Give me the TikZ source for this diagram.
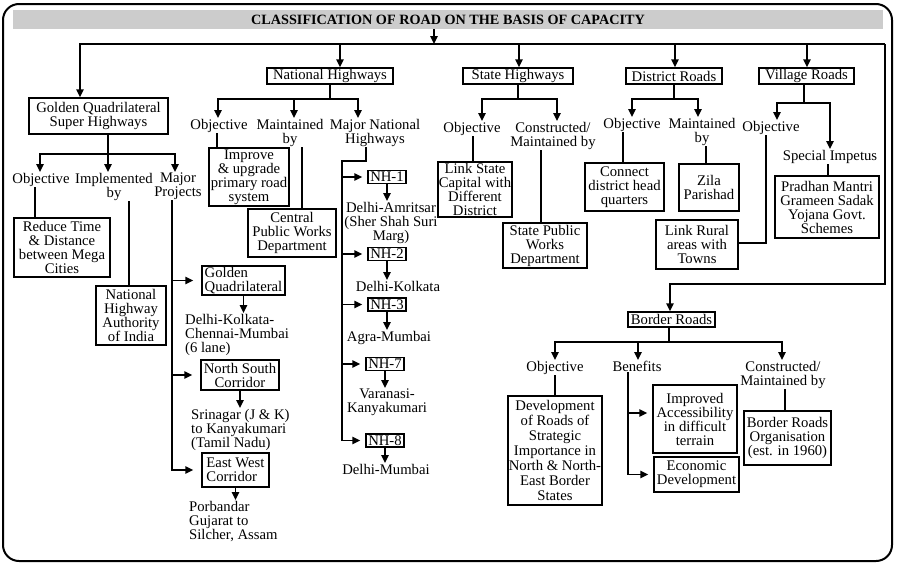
\documentclass[tikz,border=0pt]{standalone}
\usepackage{fontspec}
\setmainfont{Liberation Serif}
\usetikzlibrary{arrows.meta}
\newcommand\fs{\fontsize{14.7}{14}\selectfont}
\begin{document}
\begin{tikzpicture}[x=1pt,y=-1pt,
  every node/.style={font=\fs, inner sep=1pt},
  box/.style={draw, line width=1.5pt, align=center, inner sep=1pt, fill=white},
  sz/.style 2 args={minimum width=#1, minimum height=#2},
  lbl/.style={align=center, inner sep=1pt, anchor=north},
  conn/.style={line width=1.6pt, line cap=rect},
  arr/.style={line width=1.6pt, -{Triangle[length=8pt,width=7.5pt]}},
]
\useasboundingbox (0,0) rectangle (900,568);
\draw[line width=2pt, rounded corners=16pt] (3,4) rectangle (892,561);
\fill[gray!40] (13,10) rectangle (883,29);
\node[font=\fontsize{14.2}{14}\selectfont\bfseries] (title) at (448,19.5) {CLASSIFICATION OF ROAD ON THE BASIS OF CAPACITY};

% level 1
\node[box, sz={139}{36}] (gq) at (98.5,116) {Golden Quadrilateral\\Super Highways};
\node[box, sz={126}{16}] (nh) at (330,76) {National Highways};
\node[box, sz={110}{16}] (sh) at (518,76) {State Highways};
\node[box, sz={96}{16}] (dr) at (674,76) {District Roads};
\node[box, sz={95}{16}] (vr) at (806.5,76) {Village Roads};
\node[box, sz={87}{15}] (br) at (671.5,319.5) {Border Roads};

\coordinate (barbot) at (434,29);
\coordinate (tj) at (434,44);
\coordinate (busL) at (80,44);
\coordinate (busR) at (885,44);
\coordinate (bnh) at (340,44);
\coordinate (bsh) at (519,44);
\coordinate (bdr) at (675,44);
\coordinate (bvr) at (807,44);
\coordinate (bbr) at (885,284);
\coordinate (bbr2) at (670,284);
\draw[arr] (barbot) -- (tj);
\draw[arr] (busR) -- (busL) -- (busL |- gq.north);
\draw[arr] (busR) -- (bbr) -- (bbr2) -- (bbr2 |- br.north);
\draw[arr] (bnh) -- (bnh |- nh.north);
\draw[arr] (bsh) -- (bsh |- sh.north);
\draw[arr] (bdr) -- (bdr |- dr.north);
\draw[arr] (bvr) -- (bvr |- vr.north);

% ---------- National Highways ----------
\node[lbl] (nhobj) at (219,118) {Objective};
\node[lbl] (nhmnt) at (290,118) {Maintained\\by};
\node[lbl] (nhmaj) at (375,118) {Major National\\Highways};
\coordinate (nhj) at (330,99);
\coordinate (nhL) at (218,99);
\coordinate (nhM) at (294,99);
\coordinate (nhR) at (358,99);
\draw[conn] (nh.south) -- (nhj);
\draw[arr] (nhj) -- (nhL) -- (nhL |- nhobj.north);
\draw[arr] (nhj) -- (nhR) -- (nhR |- nhmaj.north);
\draw[arr] (nhM) -- (nhM |- nhmnt.north);

\node[box, sz={80}{58}] (impr) at (249,177) {Improve\\\& upgrade\\primary road\\system};
\node[box, sz={88}{48}] (cpwd) at (292,233) {Central\\Public Works\\Department};
\draw[conn] (217,0 |- nhobj.south) -- (217,0 |- impr.north);
\draw[conn] (302,0 |- nhmnt.south) -- (302,0 |- cpwd.north);

\node[box, sz={38}{13}] (nh1) at (387,177) {NH-1};
\node[box, sz={38}{13}] (nh2) at (387,254) {NH-2};
\node[box, sz={38}{13}] (nh3) at (387,304.5) {NH-3};
\node[box, sz={38}{13}] (nh7) at (385,364) {NH-7};
\node[box, sz={38}{13}] (nh8) at (385,440.5) {NH-8};
\coordinate (mj1) at (366,161);
\coordinate (mj2) at (342,161);
\draw[conn] (366,0 |- nhmaj.south) -- (mj1) -- (mj2) -- (mj2 |- nh8.west);
\foreach \n in {nh1,nh2,nh3,nh7,nh8}
  \draw[arr, shorten >=5pt] (mj2 |- \n.west) -- (\n.west);

\node[lbl] (t1) at (391,201) {Delhi-Amritsar\\(Sher Shah Suri\\Marg)};
\node[lbl] (t2) at (398,280) {Delhi-Kolkata};
\node[lbl] (t3) at (389,330) {Agra-Mumbai};
\node[lbl] (t7) at (387,388) {Varanasi-\\Kanyakumari};
\node[lbl] (t8) at (386,463) {Delhi-Mumbai};
\draw[arr] (nh1.south) -- (nh1.south |- t1.north);
\draw[arr] (nh2.south) -- (nh2.south |- t2.north);
\draw[arr] (nh3.south) -- (nh3.south |- t3.north);
\draw[arr] (nh7.south) -- (nh7.south |- t7.north);
\draw[arr] (nh8.south) -- (nh8.south |- t8.north);

% ---------- Golden Quadrilateral ----------
\node[lbl] (gqobj) at (41,172) {Objective};
\node[lbl] (gqimp) at (114,172) {Implemented\\by};
\node[lbl] (gqmaj) at (178,172) {Major\\Projects};
\coordinate (gqj) at (108,154);
\coordinate (gqL) at (40,154);
\coordinate (gqR) at (175,154);
\draw[arr] (gq.south -| gqj) -- (gqj |- gqimp.north);
\draw[arr] (gqL) -- (gqL |- gqobj.north);
\draw[arr] (gqR) -- (gqR |- gqmaj.north);
\draw[conn] (gqL) -- (gqR);

\node[box, sz={96}{59}] (red) at (62,247.5) {Reduce Time\\\& Distance\\between Mega\\Cities};
\node[box, sz={70}{59}] (nhai) at (131,315.5) {National\\Highway\\Authority\\of India};
\draw[conn] (35,0 |- gqobj.south) -- (35,0 |- red.north);
\draw[conn] (129,0 |- gqimp.south) -- (129,0 |- nhai.north);

\node[box, sz={83}{29}, align=left] (gq2) at (243.5,280.5) {Golden\\Quadrilateral};
\node[box, sz={78}{30}] (ns) at (240,375) {North South\\Corridor};
\node[box, sz={67}{34}, align=left] (ew) at (235.5,470) {East West\\Corridor};
\coordinate (pl) at (172,205);
\draw[conn] (172,0 |- gqmaj.south) -- (pl |- ew.west);
\draw[arr, shorten >=8pt] (pl |- gq2.west) -- (gq2.west);
\draw[arr, shorten >=8pt] (pl |- ns.west) -- (ns.west);
\draw[arr, shorten >=8pt] (pl |- ew.west) -- (ew.west);

\node[lbl, anchor=north west, align=left] (d1) at (184,313) {Delhi-Kolkata-\\Chennai-Mumbai\\(6 lane)};
\node[lbl, anchor=north west, align=left] (d2) at (190,408) {Srinagar (J \& K)\\to Kanyakumari\\(Tamil Nadu)};
\node[lbl, anchor=north west, align=left] (d3) at (188,500) {Porbandar\\Gujarat to\\Silcher, Assam};
\draw[arr] (gq2.south) -- (gq2.south |- d1.north);
\draw[arr] (ns.south) -- (ns.south |- d2.north);
\draw[arr] (ew.south) -- (ew.south |- d3.north);

% ---------- State Highways ----------
\node[lbl] (shobj) at (472,121) {Objective};
\node[lbl] (shcon) at (553,121) {Constructed/\\Maintained by};
\coordinate (shL) at (482,99);
\coordinate (shR) at (557,99);
\draw[conn] (sh.south) -- (sh.south |- shL);
\draw[arr] (shR) -- (shL) -- (shL |- shobj.north);
\draw[arr] (shL) -- (shR) -- (shR |- shcon.north);
\node[box, sz={74}{55}] (link) at (475,189.5) {Link State\\Capital with\\Different\\District};
\node[box, sz={84}{45}] (spwd) at (545,245.5) {State Public\\Works\\Department};
\draw[conn] (473,0 |- shobj.south) -- (473,0 |- link.north);
\draw[conn] (541,0 |- shcon.south) -- (541,0 |- spwd.north);

% ---------- District Roads ----------
\node[lbl] (drobj) at (632,117) {Objective};
\node[lbl] (drmnt) at (702,117) {Maintained\\by};
\coordinate (drL) at (632,99);
\coordinate (drR) at (698,99);
\draw[conn] (dr.south) -- (dr.south |- drL);
\draw[arr] (drR) -- (drL) -- (drL |- drobj.north);
\draw[arr] (drL) -- (drR) -- (drR |- drmnt.north);
\node[box, sz={79}{48}] (conn) at (624.5,187) {Connect\\district head\\quarters};
\node[box, sz={60}{47}] (zila) at (709,187.5) {Zila\\Parishad};
\draw[conn] (623,0 |- drobj.south) -- (623,0 |- conn.north);
\draw[conn] (706,0 |- drmnt.south) -- (706,0 |- zila.north);

% ---------- Village Roads ----------
\node[lbl] (vrobj) at (771,120) {Objective};
\node[lbl] (vrsp) at (830,149) {Special Impetus};
\coordinate (vrL) at (777,103);
\coordinate (vrR) at (830,103);
\draw[conn] (804,0 |- vr.south) -- (804,0 |- vrL);
\draw[arr] (vrR) -- (vrL) -- (vrL |- vrobj.north);
\draw[arr] (vrL) -- (vrR) -- (vrR |- vrsp.north);
\node[box, sz={82}{49}] (linkr) at (697,244.5) {Link Rural\\areas with\\Towns};
\node[box, sz={104}{62}] (pm) at (827,207) {Pradhan Mantri\\Grameen Sadak\\Yojana Govt.\\Schemes};
\coordinate (vo) at (766,243);
\draw[conn] (766,0 |- vrobj.south) -- (vo) -- (vo -| linkr.east);
\draw[conn] (828,0 |- vrsp.south) -- (828,0 |- pm.north);

% ---------- Border Roads ----------
\node[lbl] (brobj) at (555,360) {Objective};
\node[lbl] (brben) at (637,360) {Benefits};
\node[lbl] (brcon) at (783,360) {Constructed/\\Maintained by};
\coordinate (brj) at (669,342);
\coordinate (brL) at (555,342);
\coordinate (brM) at (638,342);
\coordinate (brR) at (782,342);
\draw[conn] (br.south -| brj) -- (brj);
\draw[arr] (brR) -- (brL) -- (brL |- brobj.north);
\draw[arr] (brL) -- (brR) -- (brR |- brcon.north);
\draw[arr] (brM) -- (brM |- brben.north);

\node[box, sz={94}{109}, font=\fontsize{14.7}{15}\selectfont] (dev) at (555,450.5) {Development\\of Roads of\\Strategic\\Importance in\\North \& North-\\East Border\\States};
\node[box, sz={84}{68}] (imp) at (695,419) {Improved\\Accessibility\\in difficult\\terrain};
\node[box, sz={85}{35}] (eco) at (696.5,474.5) {Economic\\Development};
\node[box, sz={87}{54}] (bro) at (787.5,438) {Border Roads\\Organisation\\(est. in 1960)};
\draw[conn] (555,0 |- brobj.south) -- (555,0 |- dev.north);
\draw[conn] (785,0 |- brcon.south) -- (785,0 |- bro.north);
\coordinate (bl) at (628,413);
\draw[conn] (628,0 |- brben.south) -- (628,0 |- eco.west);
\draw[arr, shorten >=5pt] (bl) -- (bl -| imp.west);
\draw[arr, shorten >=5pt] (628,0 |- eco.west) -- (eco.west);
\end{tikzpicture}
\end{document}
